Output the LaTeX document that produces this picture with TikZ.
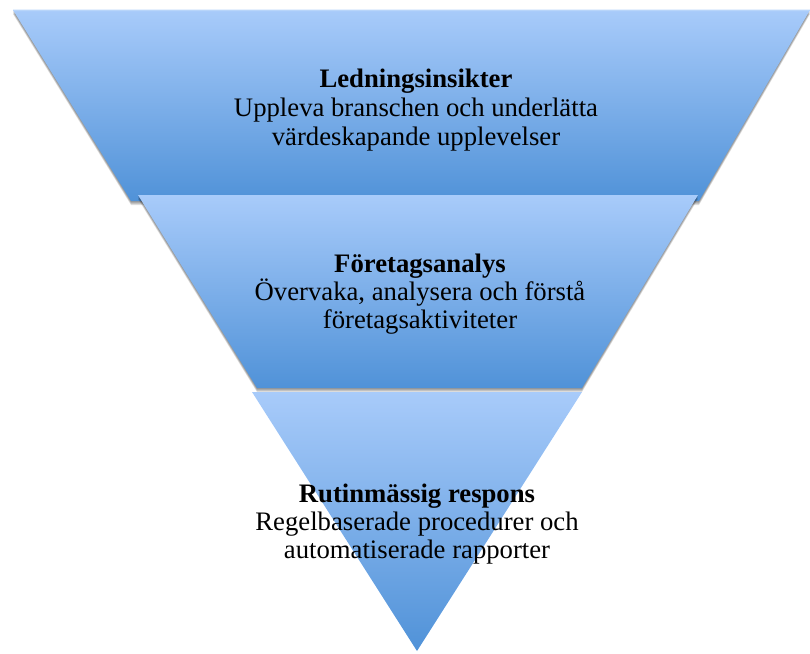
\documentclass[tikz,border=0pt]{standalone}
\usepackage{fontspec}
\setmainfont{Liberation Serif}
\definecolor{bandtop}{RGB}{168,203,250}
\definecolor{bandbot}{RGB}{80,146,216}
\definecolor{hilite}{RGB}{184,213,250}
\tikzset{
  band/.style={top color=bandtop, bottom color=bandbot, draw=none},
  shadowlayer/.style={fill=black, fill opacity=0.12, draw=none},
  txt/.style={anchor=base, inner sep=0pt, font=\fontsize{26.7}{28.5}\selectfont},
  ttl/.style={txt, font=\fontsize{26.7}{28.5}\selectfont\bfseries}
}
\begin{document}
\begin{tikzpicture}[x=1pt,y=-1pt]
\useasboundingbox (0,0) rectangle (810,653);
% top band
\foreach \d in {1,2,3,4}
  \fill[shadowlayer] (13,10+\d) -- (810,10+\d) -- (699,201+\d) -- (131,201+\d) -- cycle;
\shade[band] (13,10) -- (810,10) -- (699,201) -- (131,201) -- cycle;
\fill[hilite] (13,9.5) -- (810,9.5) -- (809.1,11) -- (13.9,11) -- cycle;
% middle band
\foreach \d in {1,2,3,4}
  \fill[shadowlayer] (138,195+\d) -- (698,195+\d) -- (582,388+\d) -- (257,388+\d) -- cycle;
\shade[band] (138,195) -- (698,195) -- (582,388) -- (257,388) -- cycle;
% bottom triangle
\shade[band] (252,392) -- (582,392) -- (417,651) -- cycle;
% texts
\node[ttl] (t1a) at (416,87) {Ledningsinsikter};
\node[txt] (t1b) at (416,116) {Uppleva branschen och underlätta};
\node[txt] (t1c) at (416,145) {värdeskapande upplevelser};
\node[ttl] (t2a) at (420,272) {Företagsanalys};
\node[txt] (t2b) at (420,300) {Övervaka, analysera och förstå};
\node[txt] (t2c) at (420,328) {företagsaktiviteter};
\node[ttl] (t3a) at (417,502) {Rutinmässig respons};
\node[txt] (t3b) at (417,530) {Regelbaserade procedurer och};
\node[txt] (t3c) at (417,558) {automatiserade rapporter};
\end{tikzpicture}
\end{document}
